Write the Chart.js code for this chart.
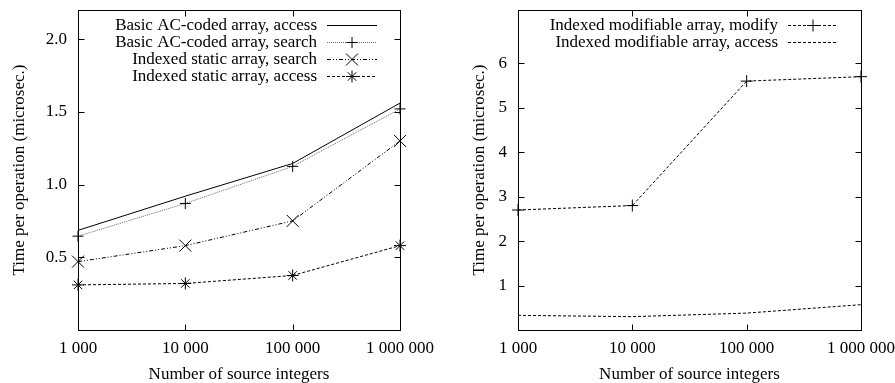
<!DOCTYPE html>
<html><head><meta charset="utf-8">
<script src="https://cdn.jsdelivr.net/npm/chart.js@4/dist/chart.umd.min.js"></script>
<style>
html,body{margin:0;padding:0;background:#fff;}
#wrap{position:relative;width:895px;height:383px;overflow:hidden;}
#c1{position:absolute;left:0;top:0;}
#c2{position:absolute;left:447px;top:0;}
</style></head><body>
<div id="wrap"><canvas id="c1" width="447" height="383"></canvas><canvas id="c2" width="448" height="383"></canvas></div>
<script>
// ---- data ----
const sizes = [1000, 10000, 100000, 1000000];
const xTickLabels = ['1 000', '10 000', '100 000', '1 000 000'];
const leftYTicks = [0.5, 1.0, 1.5, 2.0];
const rightYTicks = [1, 2, 3, 4, 5, 6];
const basicAccess = [0.685, 0.92, 1.145, 1.56];
const basicSearch = [0.645, 0.87, 1.125, 1.52];
const staticSearch = [0.47, 0.58, 0.75, 1.30];
const staticAccess = [0.31, 0.32, 0.375, 0.58];
const modifiableModify = [2.7, 2.8, 5.6, 5.7];
const modifiableAccess = [0.33, 0.30, 0.38, 0.57];
const leftNames = ['Basic AC-coded array, access', 'Basic AC-coded array, search', 'Indexed static array, search', 'Indexed static array, access'];
const rightNames = ['Indexed modifiable array, modify', 'Indexed modifiable array, access'];

const FONT = 'Liberation Serif';
const FS = 17;

function pts(arr){ return sizes.map((x,i)=>({x:x, y:arr[i]})); }

function drawMarker(ctx, style, x, y, r){
  ctx.beginPath();
  if (style === 'cross' || style === 'star'){
    ctx.moveTo(x-r, y); ctx.lineTo(x+r, y);
    ctx.moveTo(x, y-r); ctx.lineTo(x, y+r);
  }
  if (style === 'crossRot' || style === 'star'){
    const d = r*0.7071;
    ctx.moveTo(x-d, y-d); ctx.lineTo(x+d, y+d);
    ctx.moveTo(x-d, y+d); ctx.lineTo(x+d, y-d);
  }
  ctx.stroke();
}

const framePlugin = {
  id: 'gnuframe',
  afterDatasetsDraw(chart){
    const {ctx, chartArea: a, scales} = chart;
    ctx.save();
    ctx.strokeStyle = '#000'; ctx.lineWidth = 1; ctx.setLineDash([]);
    const L = Math.round(a.left)+0.5, R = Math.round(a.right)+0.5, T = Math.round(a.top)+0.5, B = Math.round(a.bottom)+0.5;
    ctx.strokeRect(L, T, R-L, B-T);
    const tl = 6;
    ctx.beginPath();
    scales.x.ticks.forEach(t=>{
      const px = Math.round(scales.x.getPixelForValue(t.value))+0.5;
      ctx.moveTo(px, B); ctx.lineTo(px, B-tl);
      ctx.moveTo(px, T); ctx.lineTo(px, T+tl);
    });
    scales.y.ticks.forEach(t=>{
      const py = Math.round(scales.y.getPixelForValue(t.value))+0.5;
      ctx.moveTo(L, py); ctx.lineTo(L+tl, py);
      ctx.moveTo(R, py); ctx.lineTo(R-tl, py);
    });
    ctx.stroke();
    // legend
    ctx.font = FS + 'px "' + FONT + '"';
    ctx.textAlign = 'right'; ctx.textBaseline = 'middle';
    chart.data.datasets.forEach((ds, i)=>{
      const y = Math.round(a.top + 15 + 17*i) + 0.5;
      ctx.fillStyle = '#000';
      ctx.fillText(ds.label, a.right - 83, y);
      const x1 = a.right - 73, x2 = a.right - 23;
      ctx.strokeStyle = ds.borderColor; ctx.lineWidth = ds.borderWidth;
      ctx.setLineDash(ds.borderDash || []);
      ctx.beginPath(); ctx.moveTo(x1, y); ctx.lineTo(x2, y); ctx.stroke();
      ctx.setLineDash([]);
      if (ds.pointRadius > 0){
        ctx.strokeStyle = '#000';
        drawMarker(ctx, ds.pointStyle, (x1+x2)/2, y, ds.pointRadius);
      }
    });
    ctx.restore();
  }
};

function ds(label, arr, dash, color, style, r){
  return {label, data: pts(arr), borderColor: color, borderWidth: 1, borderDash: dash,
    pointStyle: style || 'circle', pointRadius: r || 0, pointBorderColor: '#000', pointBorderWidth: 1,
    pointBackgroundColor: 'rgba(0,0,0,0)', pointHoverRadius: r || 0, tension: 0, fill: false, clip: false};
}

function makeOptions(yMax, yTicks, fmt, padRight, yWidth, yTitlePad){
  return {
    responsive: false, animation: false, events: [],
    layout: {padding: {left: 0, right: padRight, top: 10, bottom: 0}},
    plugins: {legend: {display: false}, tooltip: {enabled: false}},
    scales: {
      x: {
        type: 'logarithmic', min: sizes[0], max: sizes[sizes.length-1],
        afterBuildTicks: s=>{ s.ticks = sizes.map(v=>({value: v})); },
        ticks: {autoSkip: false, maxRotation: 0, padding: 8, color: '#000', font: {family: FONT, size: FS},
          callback: v=>{ const i = sizes.indexOf(v); return i >= 0 ? xTickLabels[i] : ''; }},
        grid: {display: false, drawTicks: false}, border: {display: false},
        title: {display: true, text: 'Number of source integers', color: '#000', font: {family: FONT, size: FS}, padding: {top: 0, bottom: -2}},
        afterFit: s=>{ s.height = 53; s.paddingLeft = 0; s.paddingRight = 0; }
      },
      y: {
        type: 'linear', min: 0, max: yMax,
        afterBuildTicks: s=>{ s.ticks = yTicks.map(v=>({value: v})); },
        ticks: {padding: 11, color: '#000', font: {family: FONT, size: FS}, callback: fmt},
        grid: {display: false, drawTicks: false}, border: {display: false},
        title: {display: true, text: 'Time per operation (microsec.)', color: '#000', font: {family: FONT, size: FS}, padding: {top: yTitlePad, bottom: 0}},
        afterFit: s=>{ s.width = yWidth; s.paddingTop = 0; s.paddingBottom = 0; }
      }
    }
  };
}

new Chart(document.getElementById('c1'), {
  type: 'line',
  data: {datasets: [
    ds(leftNames[0], basicAccess, [], '#000'),
    ds(leftNames[1], basicSearch, [1, 1], '#666', 'cross', 5.5),
    ds(leftNames[2], staticSearch, [4, 2, 1, 2, 1, 2], '#000', 'crossRot', 8.5),
    ds(leftNames[3], staticAccess, [3, 2], '#000', 'star', 6)
  ]},
  options: makeOptions(2.2, leftYTicks, v=>v.toFixed(1), 47, 78, 9),
  plugins: [framePlugin]
});

new Chart(document.getElementById('c2'), {
  type: 'line',
  data: {datasets: [
    ds(rightNames[0], modifiableModify, [3, 2], '#000', 'cross', 6),
    ds(rightNames[1], modifiableAccess, [3, 2], '#000')
  ]},
  options: makeOptions(7.2, rightYTicks, v=>String(v), 34, 71, 22),
  plugins: [framePlugin]
});
</script>
</body></html>
